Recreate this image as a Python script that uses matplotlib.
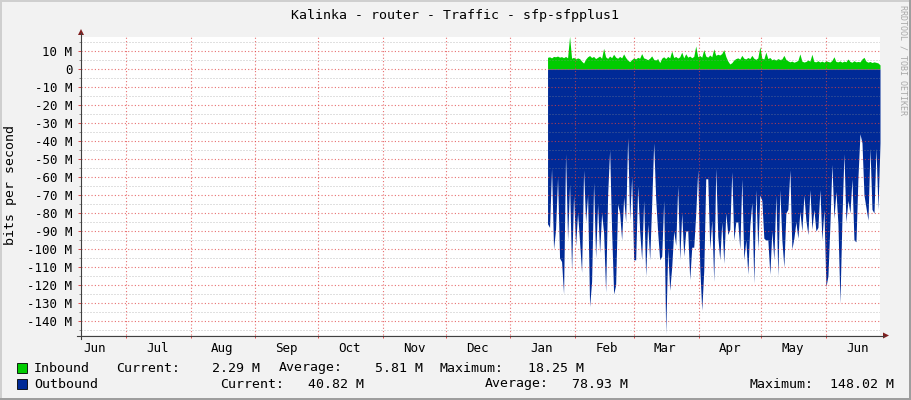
import matplotlib
matplotlib.use("Agg")
import matplotlib.pyplot as plt
import matplotlib.dates as mdates
from matplotlib.ticker import MultipleLocator, FixedLocator, FuncFormatter, NullFormatter
from matplotlib.patches import Rectangle, Polygon
from matplotlib.lines import Line2D
import pandas as pd

plt.rcParams['font.family'] = ['DejaVu Sans Mono']

W, H = 911, 400

title = "Kalinka - router - Traffic - sfp-sfpplus1"
ylabel = "bits per second"
watermark = "RRDTOOL / TOBI OETIKER"

# time window of the graph and of the stored samples
view_start, view_end = "2022-06-09 12:00", "2023-06-26 20:00"
data_start, data_end = "2023-01-18 18:00", "2023-06-26 20:00"

# Mbit/s
inbound = [
    6.5, 6.8, 6.2, 7.0, 6.8, 7.2, 6.6, 6.9, 6.3, 7.0,
    6.2, 18.2, 6.0, 6.5, 5.6, 6.2, 5.8, 4.4, 3.3, 5.5,
    6.8, 7.5, 6.4, 7.0, 5.8, 6.5, 7.2, 6.0, 11.5, 6.8,
    5.9, 7.2, 6.3, 8.2, 6.6, 6.0, 7.0, 6.2, 8.4, 6.4,
    5.0, 4.1, 5.2, 6.2, 5.6, 6.5, 6.0, 8.6, 6.2, 5.8,
    5.2, 6.0, 7.3, 5.4, 5.0, 5.8, 3.6, 6.0, 6.8, 5.8,
    7.0, 6.2, 10.0, 6.4, 7.0, 6.1, 6.8, 9.4, 6.2, 8.5,
    6.6, 7.2, 6.3, 7.0, 12.8, 6.8, 7.5, 6.6, 10.8, 7.2,
    6.6, 7.8, 6.8, 11.2, 7.6, 8.2, 7.8, 8.6, 10.8, 7.0,
    4.5, 2.8, 3.5, 5.0, 5.8, 6.2, 5.5, 7.6, 6.0, 5.6,
    6.4, 5.8, 7.6, 6.0, 5.4, 6.2, 12.4, 6.0, 5.6, 9.4,
    5.8, 6.4, 5.2, 5.6, 5.0, 5.8, 5.3, 5.6, 7.6, 5.4,
    4.6, 4.0, 4.4, 3.8, 4.2, 4.8, 8.4, 4.4, 3.9, 4.2,
    5.0, 4.4, 8.2, 4.2, 4.0, 4.6, 3.9, 4.4, 3.8, 4.6,
    4.2, 3.9, 4.8, 6.8, 4.2, 4.0, 4.5, 3.8, 4.4, 4.0,
    5.6, 4.2, 3.8, 4.6, 4.0, 4.2, 4.0, 5.6, 6.5, 4.4,
    3.8, 4.2, 3.6, 4.0, 3.7, 3.4, 2.3,
]

# drawn negative
outbound = [
    -86, -88, -55, -100, -89, -60, -105, -107, -125, -47,
    -95, -64, -112, -70, -98, -80, -96, -113, -56, -85,
    -70, -132, -118, -63, -105, -75, -102, -80, -91, -124,
    -70, -45, -90, -125, -120, -75, -80, -95, -71, -85,
    -38, -84, -60, -106, -106, -65, -90, -106, -73, -115,
    -86, -106, -75, -41, -72, -91, -106, -104, -73, -147,
    -100, -123, -110, -90, -98, -65, -106, -80, -104, -90,
    -90, -117, -99, -99, -80, -56, -110, -134, -112, -61,
    -61, -100, -84, -118, -55, -93, -106, -85, -108, -80,
    -92, -89, -57, -95, -85, -85, -100, -61, -106, -95,
    -114, -87, -74, -119, -67, -100, -70, -73, -94, -95,
    -95, -114, -90, -106, -70, -115, -67, -95, -110, -80,
    -78, -56, -100, -94, -85, -94, -79, -90, -70, -84,
    -92, -67, -89, -78, -90, -88, -67, -95, -78, -121,
    -115, -86, -53, -83, -68, -86, -130, -83, -47, -85,
    -73, -80, -61, -95, -96, -60, -36, -41, -70, -77,
    -84, -44, -78, -80, -44, -78, -41,
]

in_stats = ["2.29 M", "5.81 M", "18.25 M"]
out_stats = ["40.82 M", "78.93 M", "148.02 M"]

minor_y = [-145, -135, -125, -115, -105, -95, -85, -75, -65, -55,
           -45, -35, -25, -15, -5, 5, 15]


def px(x, y):
    return x / W, 1 - y / H


def rect(x, y, w, h, color):
    return Rectangle((x / W, 1 - (y + h) / H), w / W, h / H,
                     transform=fig.transFigure, facecolor=color, lw=0)


fig = plt.figure(figsize=(W / 100, H / 100), dpi=100, facecolor='#F2F2F2')

# frame shading
fig.add_artist(rect(0, 0, W, 2, '#CFCFCF'))
fig.add_artist(rect(0, 0, 2, H, '#CFCFCF'))
fig.add_artist(rect(0, H - 2, W, 2, '#9E9E9E'))
fig.add_artist(rect(W - 2, 0, 2, H, '#9E9E9E'))

ax = fig.add_axes([81 / W, 1 - 335 / H, (880 - 81) / W, (335 - 37) / H])
ax.set_facecolor('white')

t_in = mdates.date2num(pd.date_range(data_start, data_end, periods=len(inbound)).to_pydatetime())
t_out = mdates.date2num(pd.date_range(data_start, data_end, periods=len(outbound)).to_pydatetime())
ax.fill_between(t_in, 0, inbound, color='#00CC00', lw=0)
ax.fill_between(t_out, 0, outbound, color='#002A97', lw=0)

ax.set_xlim(mdates.date2num(pd.Timestamp(view_start).to_pydatetime()),
            mdates.date2num(pd.Timestamp(view_end).to_pydatetime()))
ax.set_ylim(-147.8, 17.8)

ax.yaxis.set_major_locator(MultipleLocator(10))
ax.yaxis.set_minor_locator(FixedLocator(minor_y))
ax.yaxis.set_major_formatter(FuncFormatter(lambda v, p: "0" if abs(v) < 1e-9 else "%d M" % round(v)))
ax.xaxis.set_major_locator(mdates.MonthLocator())
ax.xaxis.set_major_formatter(NullFormatter())
ax.xaxis.set_minor_locator(mdates.MonthLocator(bymonthday=16))
ax.xaxis.set_minor_formatter(mdates.DateFormatter('%b'))

ax.set_axisbelow(False)
ax.grid(which='major', color='#E04040', alpha=0.75, ls=(0, (1, 2)), lw=0.8)
ax.grid(which='minor', axis='y', color='#8F8F8F', alpha=0.55, ls=(0, (1, 2)), lw=0.72)

ax.tick_params(axis='y', which='major', length=2.2, width=0.72, color='#DE4F4F', pad=4, labelsize=9)
ax.tick_params(axis='y', which='minor', length=1.5, width=0.72, color='#8F8F8F')
ax.tick_params(axis='x', which='major', length=2.2, width=0.72, color='#DE4F4F')
ax.tick_params(axis='x', which='minor', length=0, pad=5, labelsize=9)
for s in ax.spines.values():
    s.set_visible(False)

# axes with arrows
fig.add_artist(Line2D([81 / W, 81 / W], [1 - 339 / H, 1 - 33 / H], transform=fig.transFigure,
                      color='#404040', lw=0.8))
fig.add_artist(Line2D([77 / W, 884 / W], [1 - 335.5 / H, 1 - 335.5 / H], transform=fig.transFigure,
                      color='#404040', lw=0.8))
fig.add_artist(Polygon([px(78, 35), px(84, 35), px(81, 29)], closed=True,
                       transform=fig.transFigure, color='#801F1F', lw=0))
fig.add_artist(Polygon([px(883, 332.5), px(883, 338.5), px(889, 335.5)], closed=True,
                       transform=fig.transFigure, color='#801F1F', lw=0))

# texts
fig.text(*px(455, 15), title, ha='center', va='center', fontsize=9.5)
fig.text(*px(11, 185), ylabel, ha='center', va='center', rotation=90, fontsize=9.5)
fig.text(*px(903, 5), watermark, ha='center', va='top', rotation=270, fontsize=6, color='#A8A8A8')

# legend
fig.add_artist(Rectangle((17 / W, 1 - 373 / H), 10 / W, 10 / H, transform=fig.transFigure,
                         facecolor='#00CC00', edgecolor='black', lw=0.6))
fig.add_artist(Rectangle((17 / W, 1 - 389 / H), 10 / W, 10 / H, transform=fig.transFigure,
                         facecolor='#002A97', edgecolor='black', lw=0.6))

y1, y2 = 368, 384
fig.text(*px(34, y1), "Inbound", va='center', fontsize=9.5)
fig.text(*px(116, y1), "Current:", va='center', fontsize=9.5)
fig.text(*px(260, y1), in_stats[0], ha='right', va='center', fontsize=9.5)
fig.text(*px(279, y1), "Average:", va='center', fontsize=9.5)
fig.text(*px(423, y1), in_stats[1], ha='right', va='center', fontsize=9.5)
fig.text(*px(440, y1), "Maximum:", va='center', fontsize=9.5)
fig.text(*px(584, y1), in_stats[2], ha='right', va='center', fontsize=9.5)

fig.text(*px(34, y2), "Outbound", va='center', fontsize=9.5)
fig.text(*px(220, y2), "Current:", va='center', fontsize=9.5)
fig.text(*px(364, y2), out_stats[0], ha='right', va='center', fontsize=9.5)
fig.text(*px(485, y2), "Average:", va='center', fontsize=9.5)
fig.text(*px(628, y2), out_stats[1], ha='right', va='center', fontsize=9.5)
fig.text(*px(750, y2), "Maximum:", va='center', fontsize=9.5)
fig.text(*px(894, y2), out_stats[2], ha='right', va='center', fontsize=9.5)

fig.savefig("out.png", dpi=100, facecolor=fig.get_facecolor())
